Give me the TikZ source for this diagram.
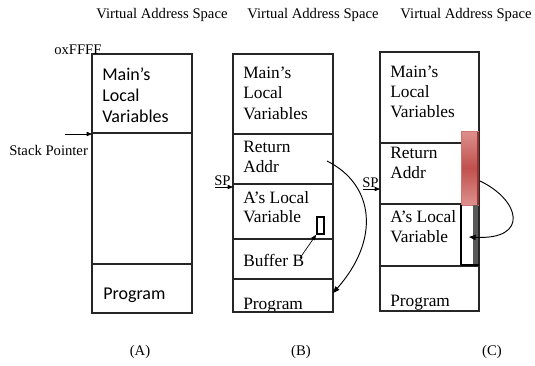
\documentclass[tikz,border=0pt]{standalone}
\usepackage{fontspec}
\setmainfont{Liberation Serif}
\newfontfamily\calib{Carlito}
\newfontfamily\cellface{Liberation Serif}[Scale=1.1818]
\usetikzlibrary{arrows.meta}
\definecolor{barred}{RGB}{192,80,77}
\definecolor{barlight}{RGB}{221,145,142}
\definecolor{bardark}{RGB}{150,50,48}
\begin{document}
\begin{tikzpicture}[x=0.75pt,y=-0.75pt,
  frame/.style={draw=black!85, line width=0.9pt},
  lbl/.style={font=\rmfamily\fontsize{11}{13}\selectfont, inner sep=0},
  serifcell/.style={font=\cellface\fontsize{11}{15}\selectfont, anchor=base west, inner sep=0},
  sanscell/.style={font=\calib\fontsize{13.5}{15}\selectfont, anchor=base west, inner sep=0},
  conn/.style={line width=0.7pt, -{Triangle[length=5pt,width=4pt]}},
  ptrarrow/.style={line width=0.5pt, -{Triangle[length=4pt,width=3.2pt]}}]
\useasboundingbox (0,0) rectangle (535,365);
\fill[white] (0,0) rectangle (535,365);

% column titles
\node[lbl, anchor=base] (tA) at (162,18) {Virtual Address Space};
\node[lbl, anchor=base] (tB) at (313,18) {Virtual Address Space};
\node[lbl, anchor=base] (tC) at (466,18) {Virtual Address Space};

% ---------- stack (A) ----------
\draw[frame] (92,54) rectangle (192,313);
\draw[frame] (92,133) -- (192,133);
\draw[frame] (92,264) -- (192,264);
\node[sanscell] (a1) at (102,80) {Main’s};
\node[sanscell] (a2) at (102,101) {Local};
\node[sanscell] (a3) at (102,122) {Variables};
\node[sanscell] (a4) at (103,299) {Program};
\node[lbl, anchor=base west] (ffff) at (54,54) {oxFFFF};
\node[lbl, anchor=base west] (spA) at (9,155) {Stack Pointer};
\coordinate (spAtail) at (65,134);
\coordinate (spAhead) at (92,134);
\draw[ptrarrow] (spAtail) -- (spAhead);
\node[lbl] (capA) at (140,352) {(A)};

% ---------- stack (B) ----------
\node[serifcell] (b1) at (243,78) {Main’s};
\node[serifcell] (b2) at (243,98.5) {Local};
\node[serifcell] (b3) at (243,119) {Variables};
\node[serifcell] (b4) at (243,152) {Return};
\node[serifcell] (b5) at (243,172) {Addr};
\node[serifcell] (b6) at (243,203) {A’s Local};
\node[serifcell] (b7) at (243,222) {Variable};
\node[serifcell] (b8) at (243,266) {Buffer B};
\begin{scope}
  \clip (233,279) rectangle (333,311.5);
  \node[serifcell] (b9) at (243,309) {Program};
\end{scope}
\draw[frame] (233,54) rectangle (333,312);
\foreach \yy in {134,184,239,279} \draw[frame] (233,\yy) -- (333,\yy);
\node[draw, line width=1.4pt, minimum width=5.2pt, minimum height=12.5pt, inner sep=0] (ptr) at (320.5,225.5) {};
\coordinate (bufB) at (300,258);
\draw[ptrarrow] (bufB) -- (ptr.south west);
\node[lbl, anchor=base west] (spB) at (214,185) {SP};
\coordinate (spBtail) at (215,187);
\coordinate (spBhead) at (233,187);
\draw[ptrarrow] (spBtail) -- (spBhead);
\coordinate (retB) at (327,161);
\coordinate (progB) at (333,293);
\draw[conn] (retB) .. controls (375,185) and (380,240) .. (progB);
\node[lbl] (capB) at (301,352) {(B)};

% ---------- stack (C) ----------
\node[serifcell] (c1) at (390,77.5) {Main’s};
\node[serifcell] (c2) at (390,97) {Local};
\node[serifcell] (c3) at (390,117) {Variables};
\node[serifcell] (c4) at (390,158) {Return};
\node[serifcell] (c5) at (390,178.5) {Addr};
\node[serifcell] (c6) at (390,222.5) {A’s Local};
\node[serifcell] (c7) at (390,242.5) {Variable};
\begin{scope}
  \clip (380,266) rectangle (479,310.5);
  \node[serifcell] (c8) at (390,306) {Program};
\end{scope}
\draw[frame] (380,52) rectangle (479,311);
\foreach \yy in {143,204,266} \draw[frame] (380,\yy) -- (479,\yy);
% overflowing buffer: red part over the return address, outlined part below
\shade[top color=barlight, bottom color=barlight, middle color=barred] (461,131) rectangle (478,205);
\draw[draw=barred!80, line width=0.6pt] (461,131) rectangle (478,205);
\draw[bardark, line width=1pt] (478,132) -- (478,205);
\fill[black!65] (473,205) rectangle (478,265);
\draw[black, line width=1pt] (461,205) -- (461,265);
\draw[black, line width=1.6pt] (461,265) -- (479,265);
\node[lbl, anchor=base west] (spC) at (362,187) {SP};
\coordinate (spCtail) at (363,189);
\coordinate (spChead) at (380,189);
\draw[ptrarrow] (spCtail) -- (spChead);
\coordinate (retC) at (480,181);
\coordinate (bufC) at (469,237);
\draw[conn] (retC) .. controls (520,200) and (530,240) .. (bufC);
\node[lbl] (capC) at (492,352) {(C)};
\end{tikzpicture}
\end{document}
